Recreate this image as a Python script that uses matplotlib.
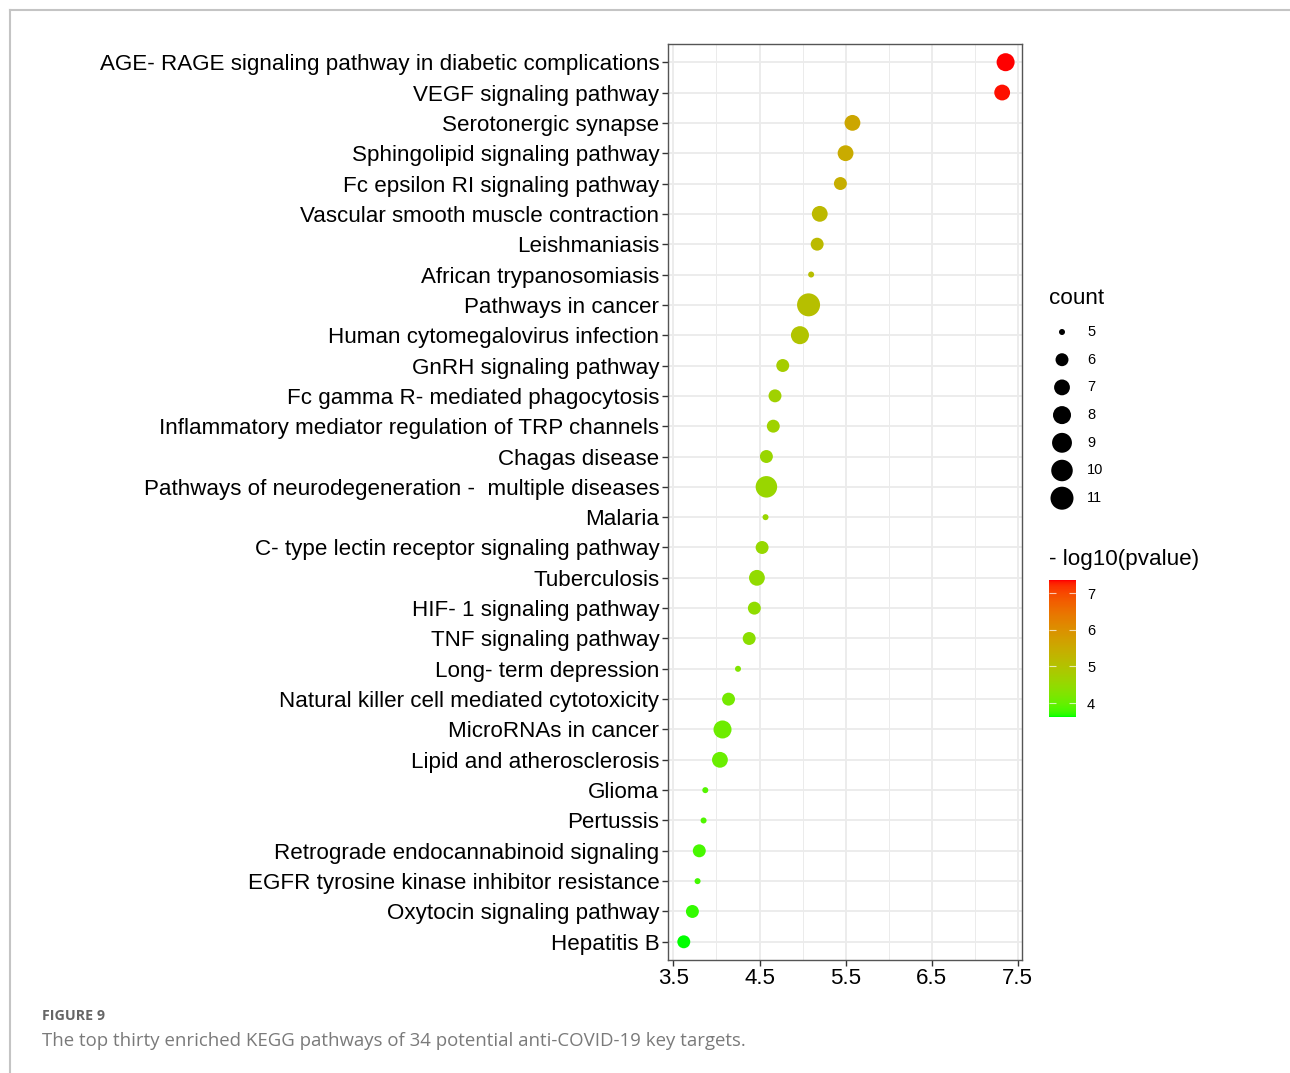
import numpy as np
import matplotlib
matplotlib.use('Agg')
import matplotlib.pyplot as plt
from matplotlib.colors import ListedColormap, Normalize
from matplotlib.cm import ScalarMappable

plt.rcParams['font.family'] = ['Liberation Sans', 'DejaVu Sans']

# top to bottom as in the figure
pathways = [
    'AGE- RAGE signaling pathway in diabetic complications',
    'VEGF signaling pathway',
    'Serotonergic synapse',
    'Sphingolipid signaling pathway',
    'Fc epsilon RI signaling pathway',
    'Vascular smooth muscle contraction',
    'Leishmaniasis',
    'African trypanosomiasis',
    'Pathways in cancer',
    'Human cytomegalovirus infection',
    'GnRH signaling pathway',
    'Fc gamma R- mediated phagocytosis',
    'Inflammatory mediator regulation of TRP channels',
    'Chagas disease',
    'Pathways of neurodegeneration -  multiple diseases',
    'Malaria',
    'C- type lectin receptor signaling pathway',
    'Tuberculosis',
    'HIF- 1 signaling pathway',
    'TNF signaling pathway',
    'Long- term depression',
    'Natural killer cell mediated cytotoxicity',
    'MicroRNAs in cancer',
    'Lipid and atherosclerosis',
    'Glioma',
    'Pertussis',
    'Retrograde endocannabinoid signaling',
    'EGFR tyrosine kinase inhibitor resistance',
    'Oxytocin signaling pathway',
    'Hepatitis B',
]
neg_log_p = [7.36, 7.32, 5.58, 5.50, 5.44, 5.20, 5.17, 5.10, 5.07, 4.97,
             4.77, 4.68, 4.66, 4.58, 4.58, 4.57, 4.53, 4.47, 4.44, 4.38,
             4.25, 4.14, 4.07, 4.04, 3.87, 3.85, 3.80, 3.78, 3.72, 3.62]
counts = [8, 7, 7, 7, 6, 7, 6, 5, 11, 8,
          6, 6, 6, 6, 10, 5, 6, 7, 6, 6,
          5, 6, 8, 7, 5, 5, 6, 5, 6, 6]
legend_counts = [5, 6, 7, 8, 9, 10, 11]
x_ticks = [3.5, 4.5, 5.5, 6.5, 7.5]
cbar_ticks = [4, 5, 6, 7]


def lab_gradient(c1, c2, n=256):
    # ggplot-like gradient: interpolate in CIE Lab
    M = np.array([[0.4124564, 0.3575761, 0.1804375],
                  [0.2126729, 0.7151522, 0.0721750],
                  [0.0193339, 0.1191920, 0.9503041]])
    white = np.array([0.95047, 1.0, 1.08883])
    d = 6 / 29

    def to_lab(rgb):
        rgb = np.asarray(rgb, float)
        lin = np.where(rgb <= 0.04045, rgb / 12.92, ((rgb + 0.055) / 1.055) ** 2.4)
        xyz = M @ lin / white
        f = np.where(xyz > d ** 3, np.cbrt(xyz), xyz / (3 * d * d) + 4 / 29)
        return np.array([116 * f[1] - 16, 500 * (f[0] - f[1]), 200 * (f[1] - f[2])])

    def to_rgb(lab):
        fy = (lab[0] + 16) / 116
        f = np.array([fy + lab[1] / 500, fy, fy - lab[2] / 200])
        xyz = np.where(f > d, f ** 3, 3 * d * d * (f - 4 / 29)) * white
        lin = np.clip(np.linalg.solve(M, xyz), 0, 1)
        rgb = np.where(lin <= 0.0031308, 12.92 * lin, 1.055 * lin ** (1 / 2.4) - 0.055)
        return np.clip(rgb, 0, 1)

    a, b = to_lab(c1), to_lab(c2)
    return ListedColormap([to_rgb(a + t * (b - a)) for t in np.linspace(0, 1, n)])


def dot_area(c):
    # diameter in px, area scale like ggplot scale_size
    c = np.asarray(c, float)
    d = 6 + 17 * np.sqrt((c - 5) / 6)
    return (d * 0.72) ** 2


cmap = lab_gradient((0, 1, 0), (1, 0, 0))
norm = Normalize(vmin=min(neg_log_p), vmax=max(neg_log_p))

W, H = 1290, 1073
fig = plt.figure(figsize=(W / 100, H / 100), dpi=100)

ax = fig.add_axes([667.7 / W, 1 - 960 / H, 354 / W, 916 / H])
n = len(pathways)
ax.scatter(neg_log_p, range(n), s=dot_area(counts), c=neg_log_p, cmap=cmap,
           norm=norm, edgecolors='none', zorder=3)
rng = max(neg_log_p) - min(neg_log_p)
ax.set_xlim(min(neg_log_p) - 0.05 * rng, max(neg_log_p) + 0.05 * rng)
ax.set_ylim(n - 0.4, -0.6)
ax.set_yticks(range(n))
ax.set_yticklabels(pathways)
ax.set_xticks(x_ticks)
ax.set_xticklabels([str(t) for t in x_ticks])
ax.set_xticks([4.0, 5.0, 6.0, 7.0], minor=True)
ax.grid(True, which='major', color='#EBEBEB', linewidth=1.3)
ax.grid(True, which='minor', axis='x', color='#EBEBEB', linewidth=0.7)
ax.set_axisbelow(True)
ax.tick_params(which='major', length=4, width=1, color='#333333',
               labelsize=16.1, pad=2, labelcolor='black')
ax.tick_params(which='minor', length=0)
for sp in ax.spines.values():
    sp.set_color('#555555')
    sp.set_linewidth(1)

# colour bar
cax = fig.add_axes([1049 / W, 1 - 717 / H, 27 / W, 137 / H])
cb = fig.colorbar(ScalarMappable(norm=norm, cmap=cmap), cax=cax, ticks=cbar_ticks)
cb.outline.set_visible(False)
cax.tick_params(direction='in', color=(1, 1, 1, 0.7), length=5, width=0.8,
                left=True, right=True, labelleft=False, labelright=True,
                labelsize=10.5, pad=8)

# overlay in pixel coordinates for legend, frame and caption
ov = fig.add_axes([0, 0, 1, 1])
ov.set_xlim(0, W)
ov.set_ylim(H, 0)
ov.axis('off')
ov.patch.set_visible(False)

ov.text(1049, 298, 'count', fontsize=16.2, va='center', ha='left')
leg_y = 332 + 27.7 * np.arange(len(legend_counts))
ov.scatter([1062] * len(legend_counts), leg_y, s=dot_area(legend_counts),
           color='black', edgecolors='none')
for yy, c in zip(leg_y, legend_counts):
    ov.text(1087, yy, str(c), fontsize=10.5, va='center', ha='left')
ov.text(1049, 559, '- log10(pvalue)', fontsize=16.1, va='center', ha='left')

ov.plot([10, W], [10, 10], color='#C4C4C4', linewidth=1.5)
ov.plot([10, 10], [10, H], color='#C4C4C4', linewidth=1.5)

ov.text(42, 1016, 'FIGURE 9', fontsize=10.3, fontweight='bold', color='#666666',
        va='center', ha='left', family=['Open Sans', 'DejaVu Sans'])
ov.text(42, 1041, 'The top thirty enriched KEGG pathways of 34 potential anti-COVID-19 key targets.',
        fontsize=13.4, color='#7A7A7A', va='center', ha='left',
        family=['Open Sans', 'DejaVu Sans'])

fig.savefig('out.png', dpi=100)
